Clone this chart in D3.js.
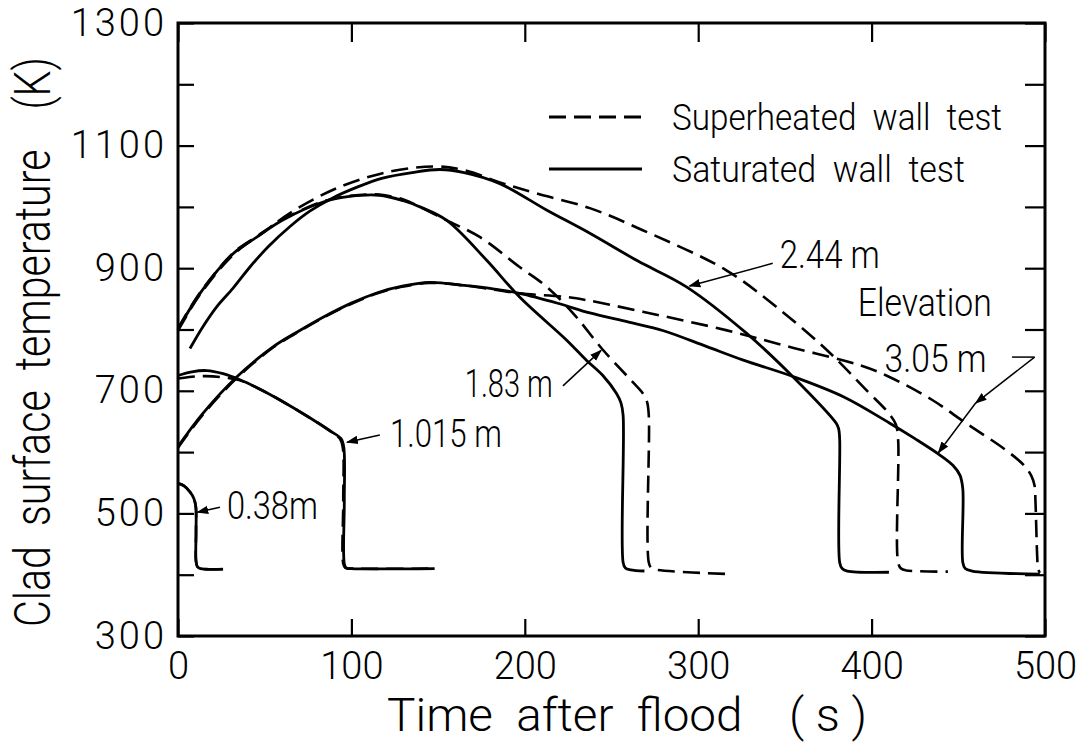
<!DOCTYPE html>
<html>
<head>
<meta charset="utf-8">
<script src="https://cdnjs.cloudflare.com/ajax/libs/d3/7.8.5/d3.min.js"></script>
<style>
  body { margin: 0; background: #fff; }
  svg { display: block; font-family: Roboto, "Liberation Sans", sans-serif; font-weight: 300; }
</style>
</head>
<body>
<svg width="1081" height="754"></svg>
<script>
// time after flood (s) vs clad surface temperature (K)
const xTickValues = [0, 100, 200, 300, 400, 500];
const yMinorTicks = [300, 400, 500, 600, 700, 800, 900, 1000, 1100, 1200, 1300];
const yTickLabels = [300, 500, 700, 900, 1100, 1300];

// superheated wall test (dashed)
const super038 = [[0,549],[3.5,545],[6.9,535],[9.2,524],[10.3,510],[10.4,470],[10.4,422],[11.2,413],[13,410],[26,409]];
const super1015 = [[0,720],[8,723],[16,724],[26,722],[35.7,717],[47,703],[58.8,685],[76,656],[88,634],[93.3,622],[95,608],[95.3,520],[95.3,418],[96.5,411],[100,410],[146,410]];
const super183 = [[0,802],[12.7,860],[31.9,925],[45,951],[60.7,980],[83.8,1009],[99,1018],[116,1020],[130,1012],[139.5,1000],[155,978],[174,951],[197,902],[212.5,870],[228,826],[245,767],[262,715],[268,696],[270.5,682],[271.5,660],[271.5,420],[273,411],[276,408],[318,401]];
const super244 = [[0,798],[12.7,857],[31.9,922],[50,960],[64.6,990],[89.5,1028],[118,1055],[147,1066],[165,1060],[185.6,1040],[206.7,1022],[237.5,998],[268,962],[316,897],[345,837],[374,767],[397,701],[410,663],[414,645],[415.3,620],[415.3,420],[417,410],[420,407],[444,405]];
const super305 = [[0,607],[14,660],[34,721],[55,771],[70,797],[85,821],[100,842],[115,859],[130,870],[145,876],[165,872],[180,866],[197,859],[224,853],[235.5,848],[268,829],[316,799],[355,770],[393,742],[410,723],[435,685],[454.5,647],[477.6,603],[488,578],[492,562],[494,545],[494.5,520],[495.5,430],[496,410],[497,403]];

// saturated wall test (solid)
const sat038 = [[0,549],[3.5,545],[6.9,535],[9.2,524],[10.3,510],[10.4,470],[10.4,422],[11.2,413],[13,410],[26,409]];
const sat1015 = [[0,725],[8,731],[16.5,733],[26,728],[35.7,718],[47,703],[58.8,685],[76,656],[88,634],[94,622],[95.6,608],[95.9,520],[95.9,418],[97,411],[100,410],[148,410]];
const sat183 = [[0,800],[12.7,859],[31.9,924],[45,950],[60.7,979],[83.8,1008],[99,1017],[116,1019],[130,1010],[139.5,1000],[155,978],[178,913],[197,853],[224,783],[235.5,750],[245,725],[252.8,696],[255.5,680],[256.7,660],[256.7,420],[258,411],[261,408],[269,406]];
const sat244 = [[6.9,769],[14,803],[22.3,837],[31.9,868],[41.5,902],[52,935],[64.6,968],[76,993],[89.5,1015],[104,1033],[118,1047],[135,1056],[151,1061],[165,1056],[185.6,1038],[212.5,995],[237.5,957],[265,912],[293,870],[327.8,794],[354.6,723],[379.6,647],[381,638],[381.6,620],[381.6,420],[383,410],[386,406],[410,404]];
const sat305 = [[0,609],[14,662],[34,723],[55,772],[70,798],[85,822],[100,843],[115,860],[130,871],[145,877],[165,872],[180,867],[197,859],[220,842],[237.5,827],[260,812],[280,798],[305,772],[326,750],[355,723],[384,690],[410,648],[425,622],[439,596],[447,578],[451,562],[452.6,540],[452.6,420],[454,410],[458,406],[497,401]];

const superSeries = [super038, super1015, super183, super244, super305];
const satSeries = [sat038, sat1015, sat183, sat244, sat305];

// elevation labels: [text, t, T at baseline, width px]
const elevLabels = [
  ['0.38m', 28.2, 491, 91],
  ['1.015 m', 122.2, 608, 112],
  ['1.83 m', 165.4, 690, 88],
  ['2.44 m', 347, 900, 100],
  ['Elevation', 392, 822, 134],
  ['3.05 m', 407.5, 731, 102]
];
// arrows: from [t,T] to [t,T]
const elevArrows = [
  [[24.2, 510], [11.2, 502]],
  [[116.4, 628], [97.5, 616]],
  [[222, 708], [244, 766]],
  [[343, 908], [295, 871]],
  [[494, 755], [460, 680]],
  [[460, 680], [438.5, 599]]
];

const nb = s => s.replace(/ /g, '\u00a0');

const svg = d3.select('svg');
const width = +svg.attr('width');
const height = +svg.attr('height');
const margin = { top: 23, right: 36, bottom: 118, left: 178 };
const innerWidth = width - margin.left - margin.right;
const innerHeight = height - margin.top - margin.bottom;

const xScale = d3.scaleLinear().domain([0, 500]).range([0, innerWidth]);
const yScale = d3.scaleLinear().domain([300, 1300]).range([innerHeight, 0]);

const g = svg.append('g')
  .attr('transform', `translate(${margin.left}, ${margin.top})`);

svg.append('defs').append('marker')
  .attr('id', 'head')
  .attr('viewBox', '0 0 10 10')
  .attr('refX', 9).attr('refY', 5)
  .attr('markerWidth', 12).attr('markerHeight', 12)
  .attr('markerUnits', 'userSpaceOnUse')
  .attr('orient', 'auto')
  .append('path').attr('d', 'M0,1.5 L10,5 L0,8.5 Z').attr('fill', '#000');

// ticks, pointing inward on all four sides
const tickLen = 16;
g.append('g').call(d3.axisLeft(yScale).tickValues(yMinorTicks).tickSize(-tickLen));
g.append('g').attr('transform', `translate(${innerWidth},0)`)
  .call(d3.axisRight(yScale).tickValues(yMinorTicks).tickSize(-tickLen - 4));
g.append('g').attr('transform', `translate(0,${innerHeight})`)
  .call(d3.axisBottom(xScale).tickValues(xTickValues).tickSize(-tickLen - 1));
g.append('g')
  .call(d3.axisTop(xScale).tickValues(xTickValues).tickSize(-tickLen - 3));
g.selectAll('.domain').remove();
g.selectAll('.tick text').remove();
g.selectAll('.tick line').attr('stroke', '#000').attr('stroke-width', 2.2);

// tick labels
const yLab = g.append('g')
  .call(d3.axisLeft(yScale).tickValues(yTickLabels).tickSize(0).tickPadding(11).tickFormat(d3.format('d')));
const xLab = g.append('g').attr('transform', `translate(0,${innerHeight})`)
  .call(d3.axisBottom(xScale).tickValues(xTickValues).tickSize(0).tickPadding(16).tickFormat(d3.format('d')));
[yLab, xLab].forEach(a => {
  a.select('.domain').remove();
  a.selectAll('text').attr('font-size', 38).attr('fill', '#000')
    .attr('font-family', 'Roboto, "Liberation Sans", sans-serif');
});
yLab.selectAll('text').attr('letter-spacing', 3);

// frame
g.append('rect')
  .attr('width', innerWidth).attr('height', innerHeight)
  .attr('fill', 'none').attr('stroke', '#000').attr('stroke-width', 3);

const line = d3.line()
  .x(d => xScale(d[0]))
  .y(d => yScale(d[1]))
  .curve(d3.curveCatmullRom.alpha(0.5));

g.selectAll('.sat').data(satSeries).enter().append('path')
  .attr('class', 'sat')
  .attr('d', line)
  .attr('fill', 'none').attr('stroke', '#000').attr('stroke-width', 2.8)
  .attr('stroke-linejoin', 'round');

g.selectAll('.super').data(superSeries).enter().append('path')
  .attr('class', 'super')
  .attr('d', line)
  .attr('fill', 'none').attr('stroke', '#000').attr('stroke-width', 2.6)
  .attr('stroke-dasharray', '17,8');

// annotations
g.selectAll('.elev-label').data(elevLabels).enter().append('text')
  .attr('class', 'elev-label')
  .attr('x', d => xScale(d[1]))
  .attr('y', d => yScale(d[2]))
  .attr('font-size', 38)
  .attr('textLength', d => d[3])
  .attr('lengthAdjust', 'spacingAndGlyphs')
  .text(d => nb(d[0]));

g.selectAll('.elev-arrow').data(elevArrows).enter().append('line')
  .attr('class', 'elev-arrow')
  .attr('x1', d => xScale(d[0][0])).attr('y1', d => yScale(d[0][1]))
  .attr('x2', d => xScale(d[1][0])).attr('y2', d => yScale(d[1][1]))
  .attr('stroke', '#000').attr('stroke-width', 1.5)
  .attr('marker-end', 'url(#head)');

// little hook before the 3.05 m arrow
g.append('line')
  .attr('x1', xScale(481)).attr('y1', yScale(755))
  .attr('x2', xScale(494)).attr('y2', yScale(755))
  .attr('stroke', '#000').attr('stroke-width', 1.5);

// legend
const legend = svg.append('g').attr('transform', 'translate(549, 0)');
const legendRows = [
  { label: 'Superheated  wall  test', dash: '17,8', y: 117, w: 330 },
  { label: 'Saturated  wall  test', dash: null, y: 169, w: 293 }
];
legendRows.forEach(r => {
  legend.append('line')
    .attr('x1', 0).attr('x2', 93).attr('y1', r.y).attr('y2', r.y)
    .attr('stroke', '#000').attr('stroke-width', 3)
    .attr('stroke-dasharray', r.dash);
  legend.append('text')
    .attr('x', 123).attr('y', r.y + 13)
    .attr('font-size', 37)
    .attr('textLength', r.w)
    .attr('lengthAdjust', 'spacingAndGlyphs')
    .text(nb(r.label));
});

// axis titles
svg.append('text')
  .attr('x', 387).attr('y', 731)
  .attr('font-size', 46)
  .attr('textLength', 480)
  .attr('lengthAdjust', 'spacingAndGlyphs')
  .text(nb('Time  after  flood    ( s )'));

svg.append('text')
  .attr('transform', 'translate(50, 627) rotate(-90)')
  .attr('font-size', 50)
  .attr('textLength', 570)
  .attr('lengthAdjust', 'spacingAndGlyphs')
  .text(nb('Clad  surface  temperature    (K)'));
</script>
</body>
</html>
